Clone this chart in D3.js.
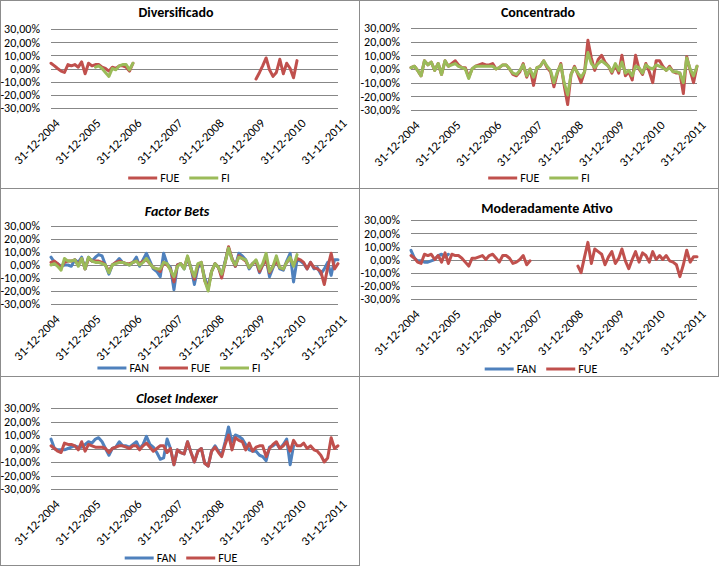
<!DOCTYPE html>
<html>
<head>
<meta charset="utf-8">
<script src="https://cdn.jsdelivr.net/npm/d3@7"></script>
<style>
body { margin: 0; background: #fff; }
svg { display: block; font-family: Carlito, Calibri, Lato, sans-serif; }
</style>
</head>
<body>
<svg width="719" height="566"></svg>
<script>
// tick labels
var yearLabels = ['31-12-2004', '31-12-2005', '31-12-2006', '31-12-2007',
                  '31-12-2008', '31-12-2009', '31-12-2010', '31-12-2011'];
var yTicks = [30, 20, 10, 0, -10, -20, -30];

// monthly returns (%), Dec 2004 .. Dec 2011 (85 months), null = no data
var divFUE = [4, 2, 0, -2, -3, 3, 2, 3, 1, 5, -4, 4, 2, 3, 3, 1, 0, -2, 1, 0, 2, 2, 1, -2, 4,
  null, null, null, null, null, null, null, null, null, null, null, null, null, null, null, null, null, null,
  null, null, null, null, null, null, null, null, null, null, null, null, null, null, null, null, null,
  -8, -3, 2, 8, -1, -6, -3, 7, -4, 4, 0, -7, 6,
  null, null, null, null, null, null, null, null, null, null, null, null];
var divFI = [null, null, null, null, null, null, null, null, null, null, null, null, null,
  1, 2, 0, -3, -6, 0, -1, 2, 3, 3, -1, 4,
  null, null, null, null, null, null, null, null, null, null, null, null, null, null, null, null, null, null, null, null,
  null, null, null, null, null, null, null, null, null, null, null, null, null, null, null, null, null, null, null, null,
  null, null, null, null, null, null, null, null, null, null, null, null, null, null, null, null, null, null, null, null];

var conFUE = [1, 2, -1, -5, 6, 3, 5, -1, 4, -4,
  6, 2, 4, 6, 3, 1, 1, -6, 0, 2,
  3, 4, 3, 3, 4, 0, 1, 3, 3, 0,
  -4, -5, -2, 4, -6, 0, -12, 1, 2, 6,
  1, -2, -13, -3, 4, -12, -26, -4, 2, -4,
  -10, -2, 21, 8, -1, 7, 10, 5, 2, -3,
  3, -3, 10, -5, -2, -8, 10, 0, -4, 4,
  -2, -10, 6, 6, 2, -1, 2, -2, -3, -3,
  -18, 9, -1, -10, 2];
var conFI = [1, 2, -1, -5, 6, 3, 5, -1, 4, -4,
  6, 2, 3, 4, 2, 1, 0, -7, 0, 2,
  2, 2, 2, 2, 2, 0, 1, 3, 3, 0,
  -3, -4, -1, 3, -5, 0, -6, 1, 2, 6,
  2, -1, -10, -2, 3, -10, -19, -4, 1, -3,
  -6, -2, 12, 4, 1, 4, 6, 4, 2, -2,
  4, -1, 5, -3, -1, -5, 2, 1, -3, 3,
  1, 0, 3, 2, 1, -1, 1, -2, -2, -3,
  -10, 8, 0, -5, 2];

var fbFAN = [6, 2, 1, -1, 0, 0, -1, 4, 2, 6,
  -3, 6, 3, 6, 8, 7, 0, -7, 0, 2,
  5, 2, 1, 0, 2, 6, -1, 4, 9, 3,
  -3, -5, -9, 9, 1, -2, -19, 0, 1, -3,
  5, -2, -15, -2, 1, -10, -17, -5, 1, -2,
  -8, 3, 13, 5, -1, 9, 7, 4, -3, 1,
  3, -6, 0, 5, -9, -2, 4, -3, -4, 3,
  9, -13, 4, 3, 1, -3, 2, -3, -2, -7,
  -3, 2, -8, 4, 4];
var fbFUE = [2, 3, 1, -2, 2, 3, 3, 4, 0, 5,
  -3, 5, 3, 3, 3, 2, 0, -5, 0, 2,
  3, 2, 1, 1, 2, 3, 1, 3, 4, 1,
  -2, -3, -5, 2, 0, -3, -13, 0, 1, -2,
  6, -3, -11, 0, 2, -12, -18, -5, 1, -2,
  -10, 2, 14, 5, -1, 7, 5, 3, -2, 1,
  3, -5, 0, 4, -6, -1, 3, -2, -3, 2,
  5, 0, 5, 4, 2, -3, 2, -2, -3, -5,
  -15, -2, 9, -3, 1];
var fbFI = [0, 1, -1, -4, 5, 3, 3, 4, -1, 5,
  -3, 6, 3, 2, 2, 1, 0, -6, 0, 1,
  2, 2, 1, 0, 2, 3, 0, 2, 5, 1,
  -2, -3, -3, 2, 1, -4, -9, -1, 1, -3,
  7, -3, -9, 1, 2, -12, -20, -5, 1, -2,
  -7, 2, 13, 4, 0, 6, 5, 4, -2, 1,
  4, -3, 1, 9, -5, -1, 7, -2, -3, 2,
  6, -1, 8,
  null, null, null, null, null, null, null, null, null, null, null, null];

var modFAN = [7, 1, -1, -1, -2, -2, -1, 0, 3, 4, 2, 4,
  null, null, null, null, null, null, null, null, null, null, null, null, null, null, null, null, null, null, null, null,
  null, null, null, null, null, null, null, null, null, null, null, null, null, null, null, null, null, null, null, null,
  null, null, null, null, null, null, null, null, null, null, null, null, null, null, null, null, null, null, null, null,
  null, null, null, null, null, null, null, null, null, null, null, null, null];
var modFUE = [3, 1, -2, -3, 4, 3, 4, 0, 3, -2,
  5, -3, 4, 3, 3, 1, -2, -5, 1, 1,
  2, 3, 0, 3, 4, 1, -2, 3, 3, 1,
  -3, -2, 0, 3, -4, -1,
  null, null, null, null, null, null, null, null, null, null, null, null, null,
  -5, -10, 2, 13, -3, 8, 6, 4, -4, 2,
  6, -3, 1, 8, -1, -7, 0, 6, -2, 5,
  3, -2, 6, 0, 3, 0, 3, -1, -2, -4,
  -13, -4, 7, -2, 2, 2];

var ciFAN = [7, 0, -1, -1, -1, 0, 1, 2, 1, 1,
  3, 5, 4, 7, 8, 5, 0, -5, 0, 1,
  5, 2, 2, 1, 3, 5, 0, 3, 9, 3,
  1, -3, -8, -7, 7, 0, -12, -1, -3, -4,
  5, -3, -10, -2, 0, -11, -13, -2, 2, -2,
  -5, 5, 16, 5, 10, 9, 7, 3, -1, -2,
  -2, -5, -6, -9, 1, 2, 4, 0, 3, 7,
  -12, 2,
  null, null, null, null, null, null, null, null, null, null, null, null, null];
var ciFUE = [2, 0, -2, -3, 4, 3, 3, 2, -1, 5,
  -2, 3, 2, 1, 1, 1, 0, -3, 0, 1,
  2, 2, 1, 0, 2, 2, -1, 2, 4, 1,
  -2, 0, 2, 2, -3, 0, -12, -1, -3, -4,
  5, -3, -10, -2, 0, -11, -13, -2, 1, -3,
  -6, 3, 10, -1, 8, 6, 5, -1, 4, -2,
  1, 2, 2, -6, 0, 3, 5, 0, 2, 5,
  -2, 6, 2, 2, 4, 0, 2, -1, -2, -5,
  -10, -7, 8, 0, 2];

var colors = {FAN: '#4f81bd', FUE: '#c0504d', FI: '#9bbb59'};

var panels = [
  {title: 'Diversificado', italic: false, x: 0, y: 0, w: 360, h: 189, top: 29, bottom: 108, titleY: 17, titleX: 176, legendY: 178, legendX: 179,
   series: [['FUE', divFUE], ['FI', divFI]]},
  {title: 'Concentrado', italic: false, x: 359, y: 0, w: 360, h: 189, top: 28, bottom: 110, titleY: 17, titleX: 179, legendY: 178, legendX: 180,
   series: [['FUE', conFUE], ['FI', conFI]]},
  {title: 'Factor Bets', italic: true, x: 0, y: 188, w: 360, h: 189, top: 38, bottom: 116, titleY: 28, titleX: 177, legendY: 180, legendX: 179,
   series: [['FAN', fbFAN], ['FUE', fbFUE], ['FI', fbFI]]},
  {title: 'Moderadamente Ativo', italic: false, x: 359, y: 188, w: 360, h: 189, top: 32, bottom: 111, titleY: 25, titleX: 188, legendY: 181, legendX: 182,
   series: [['FAN', modFAN], ['FUE', modFUE]]},
  {title: 'Closet Indexer', italic: true, x: 0, y: 376, w: 360, h: 190, top: 32, bottom: 113, titleY: 27, titleX: 177, legendY: 182, legendX: 181,
   series: [['FAN', ciFAN], ['FUE', ciFUE]]}
];

var parseDate = d3.timeParse('%d-%m-%Y');
var tickDates = yearLabels.map(parseDate);
var months = d3.range(85).map(function (i) { return new Date(2004, 12 + i, 0); });

var svg = d3.select('svg');
svg.append('rect').attr('width', 719).attr('height', 566).attr('fill', '#fff');

panels.forEach(function (p) {
  var g = svg.append('g').attr('transform', 'translate(' + p.x + ',' + p.y + ')');
  var left = p.x > 0 ? 52 : 51;

  g.append('rect')
   .attr('x', 0.5).attr('y', 0.5)
   .attr('width', p.w - 1).attr('height', p.h - 1)
   .attr('fill', '#fff')
   .attr('stroke', '#8c8c8c')
   .attr('stroke-width', 1);

  var x = d3.scaleTime()
    .domain([tickDates[0], tickDates[tickDates.length - 1]])
    .range([left, 338]);
  var y = d3.scaleLinear().domain([-30, 30]).range([p.bottom, p.top]);

  // gridlines
  g.append('g')
   .selectAll('line')
   .data(yTicks)
   .enter()
   .append('line')
   .attr('x1', left)
   .attr('x2', 338)
   .attr('y1', function (d) { return Math.round(y(d)) + 0.5; })
   .attr('y2', function (d) { return Math.round(y(d)) + 0.5; })
   .attr('stroke', '#878787')
   .attr('stroke-width', 1);

  var yAxis = g.append('g')
    .attr('transform', 'translate(' + left + ',0)')
    .call(d3.axisLeft(y).tickValues(yTicks).tickSize(0).tickPadding(11)
      .tickFormat(function (d) { return d.toFixed(2).replace('.', ',') + '%'; }));
  yAxis.select('.domain').remove();
  yAxis.selectAll('text').attr('font-size', 12).attr('fill', '#000')
    .attr('font-family', 'Carlito, Calibri, Lato, sans-serif');

  var xAxis = g.append('g')
    .attr('transform', 'translate(0,' + p.bottom + ')')
    .call(d3.axisBottom(x).tickValues(tickDates).tickSize(0)
      .tickFormat(function (d, i) { return yearLabels[i]; }));
  xAxis.select('.domain').remove();
  xAxis.selectAll('text')
    .attr('font-size', 12.5)
    .attr('fill', '#000')
    .attr('font-family', 'Carlito, Calibri, Lato, sans-serif')
    .attr('text-anchor', 'end')
    .attr('dy', '0.35em')
    .attr('y', 0)
    .attr('transform', 'translate(6,13) rotate(-45)');

  p.series.forEach(function (s) {
    var line = d3.line()
      .defined(function (d) { return d != null; })
      .x(function (d, i) { return x(months[i]); })
      .y(function (d) { return y(d); });
    g.append('path')
     .datum(s[1])
     .attr('d', line)
     .attr('fill', 'none')
     .attr('stroke', colors[s[0]])
     .attr('stroke-width', 3)
     .attr('stroke-linejoin', 'round')
     .attr('stroke-linecap', 'round');
  });

  g.append('text')
   .attr('x', p.titleX)
   .attr('y', p.titleY)
   .attr('text-anchor', 'middle')
   .attr('font-size', 14)
   .attr('font-weight', 'bold')
   .attr('font-style', p.italic ? 'italic' : 'normal')
   .text(p.title);

  // legend
  var leg = g.append('g');
  var pos = 0;
  p.series.forEach(function (s) {
    var it = leg.append('g').attr('transform', 'translate(' + pos + ',0)');
    it.append('line')
      .attr('x1', 0).attr('x2', 29)
      .attr('y1', 0).attr('y2', 0)
      .attr('stroke', colors[s[0]])
      .attr('stroke-width', 3);
    var t = it.append('text')
      .attr('x', 32)
      .attr('dy', '0.35em')
      .attr('font-size', 12)
      .text(s[0]);
    pos += 32 + t.node().getComputedTextLength() + 10;
  });
  pos -= 10;
  leg.attr('transform', 'translate(' + (p.legendX - pos / 2) + ',' + p.legendY + ')');
});
</script>
</body>
</html>
